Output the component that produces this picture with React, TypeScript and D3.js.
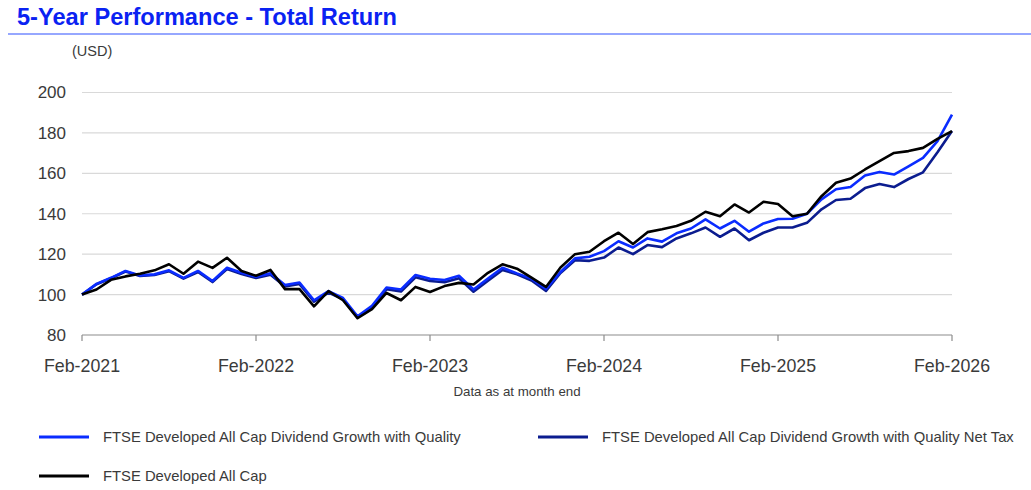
import React from 'react';
import * as d3 from 'd3';

// monthly index levels, Feb-2021 = 100
const divGrowthQuality = [
  100, 105.3, 108.3, 111.7, 109.5, 110, 112, 108.3, 111.7, 106.7, 113.3, 110.8,
  108.8, 110.5, 104.7, 106, 97.2, 101.7, 98.3, 89.3, 94.5, 103.5, 102.5, 109.7,
  107.8, 107.2, 109.3, 102.5, 108, 113.3, 110.5, 107.9, 102.8, 111.2, 117.9, 118.7,
  121.5, 126.4, 123.3, 127.8, 126.2, 130.3, 132.7, 137.2, 132.7, 136.5, 131.1, 135.2,
  137.4, 137.5, 140, 147.1, 152.1, 153.2, 158.9, 160.7, 159.4, 163.5, 167.6, 175.9,
  189.1,
];

const divGrowthQualityNetTax = [
  100, 105.1, 108.1, 111.4, 109.2, 109.7, 111.6, 107.9, 111.2, 106.2, 112.7, 110.2,
  108.2, 109.8, 104, 105.2, 96.5, 101, 97.6, 88.7, 93.4, 102.6, 101.5, 108.6,
  106.7, 106.1, 108.1, 101.4, 106.9, 112.2, 110, 107, 101.8, 110.7, 117, 116.7,
  118.3, 123.3, 120, 124.5, 123.5, 127.8, 130.3, 133.2, 128.6, 132.7, 126.9, 130.6,
  133.2, 133.2, 135.5, 142.2, 146.8, 147.4, 152.7, 154.7, 153.2, 157.2, 160.5, 170.4,
  180.9,
];

const developedAllCap = [
  100, 102.5, 107.3, 109, 110.3, 112, 115, 110.3, 116.3, 113.2, 118.2, 111.7,
  109.3, 112.2, 102.7, 102.7, 94.2, 101.7, 97.2, 88.3, 92.8, 100.8, 97.2, 103.8,
  101.3, 104.2, 105.8, 105, 110.8, 115, 112.8, 108.4, 103.8, 113.4, 120, 121.2,
  126.4, 130.6, 125, 130.9, 132.3, 133.9, 136.5, 141, 138.8, 144.6, 140.6, 145.9,
  144.8, 138.8, 140, 148.7, 155.3, 157.4, 161.9, 166, 170.1, 171, 172.6, 177.1,
  180.9,
];

const xTickLabels = ['Feb-2021', 'Feb-2022', 'Feb-2023', 'Feb-2024', 'Feb-2025', 'Feb-2026'];
const yTicks = [80, 100, 120, 140, 160, 180, 200];

const series = [
  { name: 'FTSE Developed All Cap Dividend Growth with Quality Net Tax', values: divGrowthQualityNetTax, color: '#0b1c8f' },
  { name: 'FTSE Developed All Cap Dividend Growth with Quality', values: divGrowthQuality, color: '#0a2cff' },
  { name: 'FTSE Developed All Cap', values: developedAllCap, color: '#000000' },
];

const W = 1031;
const H = 490;
const font = '"Liberation Sans", Arial, sans-serif';
const textColor = '#3a3a3a';

export default function App() {
  const x = d3.scaleLinear().domain([0, 60]).range([82, 952]);
  const y = d3.scaleLinear().domain([80, 200]).range([335, 92.5]);

  const line = d3.line<number>()
    .x((_, i) => x(i))
    .y(d => y(d));

  const legend = [
    { s: series[1], lx: 39, ly: 437 },
    { s: series[0], lx: 538, ly: 437 },
    { s: series[2], lx: 39, ly: 476 },
  ];

  return (
    <svg width={W} height={H} style={{ position: 'absolute', left: 0, top: 0, background: '#fff' }} fontFamily={font}>
      {/* title */}
      <text x={17} y={25} fontSize={23.6} fontWeight="bold" fill="#0a22f2">5-Year Performance - Total Return</text>
      <line x1={8} x2={W} y1={34} y2={34} stroke="#2e50ff" strokeWidth={1.2} />
      <text x={72} y={56} fontSize={14.5} fill={textColor}>(USD)</text>

      {/* grid + y labels */}
      {yTicks.map(t => (
        <g key={t}>
          {t !== 80 && (
            <line x1={x(0)} x2={x(60)} y1={y(t)} y2={y(t)} stroke="#d9d9d9" strokeWidth={1.2} />
          )}
          <text x={66} y={y(t)} dy="0.35em" textAnchor="end" fontSize={17} fill={textColor}>{t}</text>
        </g>
      ))}

      {/* x axis */}
      <line x1={x(0)} x2={x(60)} y1={y(80)} y2={y(80)} stroke="#8c8c8c" strokeWidth={1.2} />
      {xTickLabels.map((lab, k) => (
        <g key={lab}>
          <line x1={x(k * 12)} x2={x(k * 12)} y1={y(80)} y2={y(80) + 6} stroke="#8c8c8c" strokeWidth={1.2} />
          <text x={x(k * 12)} y={366} dy="0.35em" textAnchor="middle" fontSize={17.8} fill={textColor}>{lab}</text>
        </g>
      ))}
      <text x={(x(0) + x(60)) / 2} y={391} dy="0.35em" textAnchor="middle" fontSize={13.3} fill={textColor}>Data as at month end</text>

      {/* series */}
      {series.map(s => (
        <path key={s.name} d={line(s.values) || ''} fill="none" stroke={s.color} strokeWidth={2.6} strokeLinejoin="round" />
      ))}

      {/* legend */}
      {legend.map(({ s, lx, ly }) => (
        <g key={s.name}>
          <line x1={lx} x2={lx + 50} y1={ly} y2={ly} stroke={s.color} strokeWidth={3} />
          <text x={lx + 64} y={ly} dy="0.35em" fontSize={14.8} fill={textColor}>{s.name}</text>
        </g>
      ))}
    </svg>
  );
}
